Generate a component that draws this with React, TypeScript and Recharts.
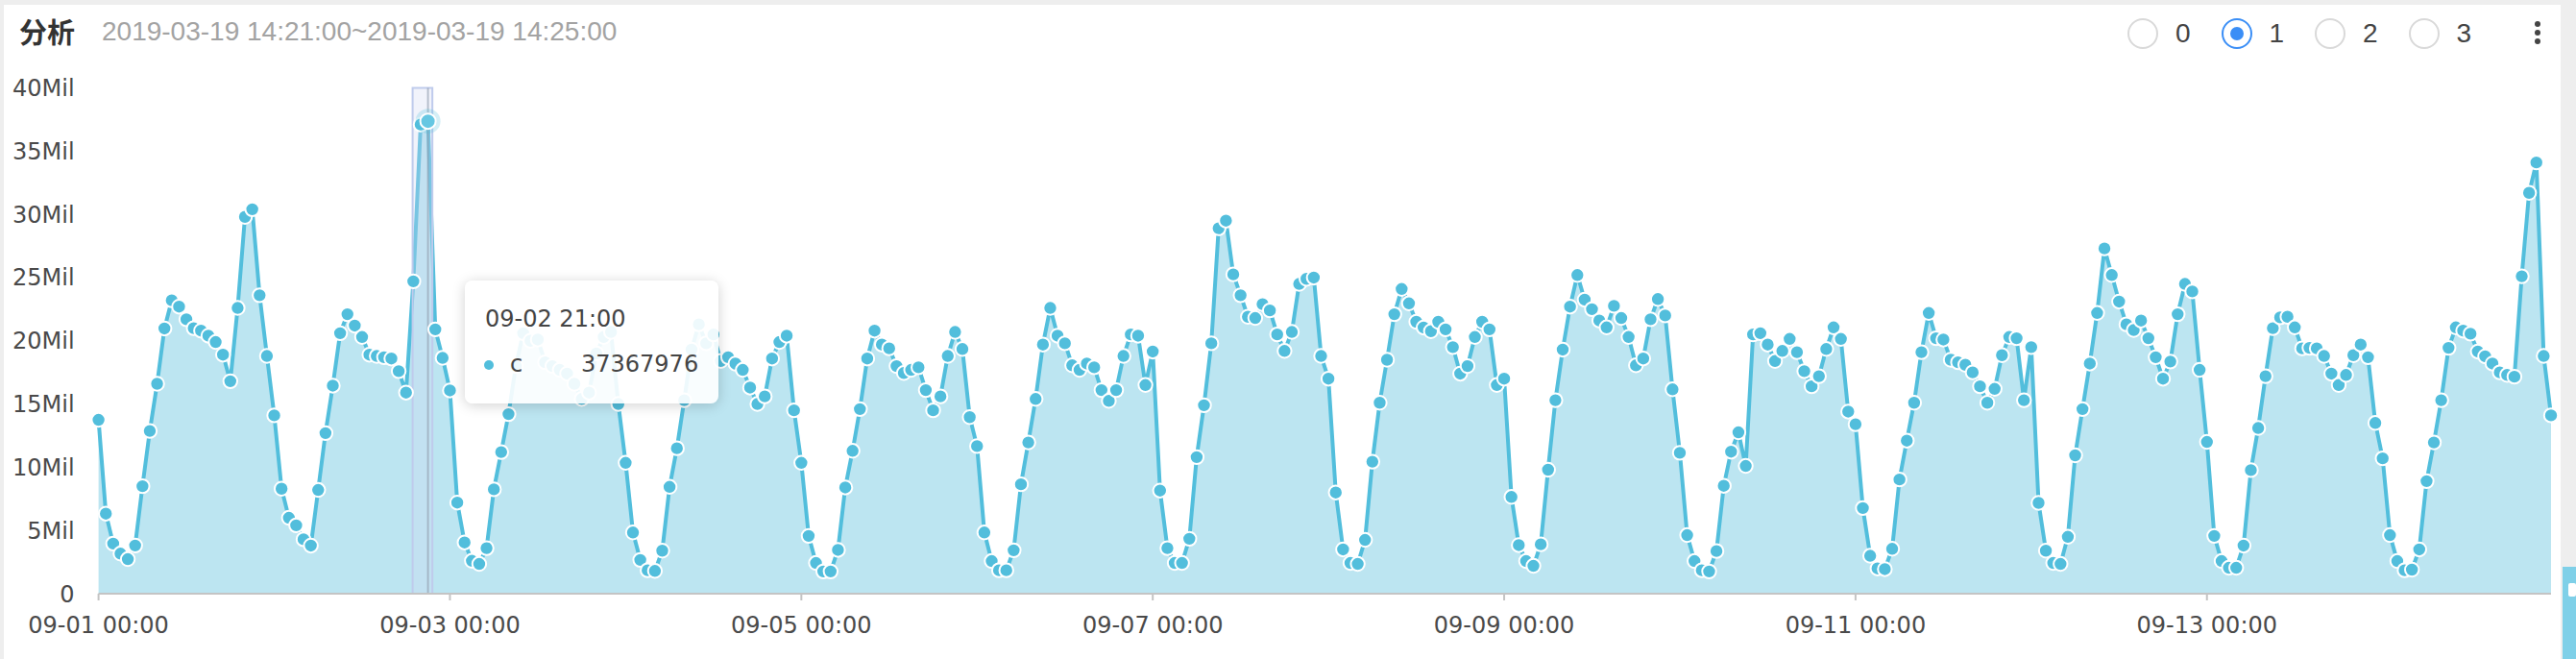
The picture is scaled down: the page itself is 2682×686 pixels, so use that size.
import {Area, AreaChart, ReferenceArea, ReferenceLine, XAxis, YAxis} from 'recharts';

// hourly values, in millions, one array per day
const sep01 = [13.75, 6.33, 3.96, 3.17, 2.73, 3.81, 8.5, 12.87, 16.6, 20.97, 23.2, 22.7, 21.7, 21.0, 20.8, 20.4, 19.9, 18.9, 16.8, 22.6, 29.8, 30.4, 23.6, 18.8];
const sep02 = [14.1, 8.3, 6.0, 5.4, 4.3, 3.8, 8.2, 12.7, 16.45, 20.6, 22.1, 21.2, 20.3, 18.9, 18.8, 18.7, 18.6, 17.6, 15.9, 24.7, 37.1, 37.367976, 20.9, 18.65];
const sep03 = [16.07, 7.2, 4.05, 2.6, 2.35, 3.6, 8.25, 11.2, 14.2, 18.0, 20.6, 20.0, 20.1, 18.3, 18.0, 17.7, 17.4, 16.6, 15.4, 15.9, 19.0, 20.3, 20.7, 15.0];
const sep04 = [10.35, 4.84, 2.67, 1.85, 1.8, 3.4, 8.45, 11.5, 15.3, 19.3, 21.3, 19.8, 20.5, 18.4, 18.7, 18.2, 17.7, 16.3, 15.0, 15.6, 18.6, 19.9, 20.4, 14.5];
const sep05 = [10.35, 4.57, 2.43, 1.76, 1.76, 3.46, 8.4, 11.3, 14.6, 18.6, 20.8, 19.7, 19.4, 18.0, 17.45, 17.7, 17.9, 16.1, 14.5, 15.6, 18.8, 20.7, 19.35, 13.96];
const sep06 = [11.67, 4.84, 2.58, 1.85, 1.85, 3.43, 8.65, 11.96, 15.4, 19.7, 22.6, 20.4, 19.8, 18.06, 17.7, 18.2, 17.9, 16.1, 15.25, 16.1, 18.8, 20.5, 20.4, 16.5];
const sep07 = [19.15, 8.15, 3.6, 2.43, 2.43, 4.34, 10.8, 14.9, 19.8, 28.9, 29.5, 25.25, 23.6, 21.9, 21.8, 22.9, 22.4, 20.5, 19.2, 20.7, 24.5, 24.9, 25.0, 18.8];
const sep08 = [17.0, 8.0, 3.5, 2.43, 2.35, 4.25, 10.44, 15.1, 18.5, 22.1, 24.1, 22.96, 21.5, 21.05, 20.76, 21.5, 20.9, 19.5, 17.4, 18.0, 20.3, 21.5, 20.9, 16.5];
const sep09 = [17.0, 7.65, 3.84, 2.58, 2.2, 3.9, 9.8, 15.3, 19.3, 22.7, 25.2, 23.25, 22.5, 21.6, 21.06, 22.76, 21.8, 20.3, 18.06, 18.6, 21.7, 23.3, 22.0, 16.16];
const sep10 = [11.14, 4.63, 2.58, 1.85, 1.76, 3.37, 8.53, 11.23, 12.76, 10.1, 20.5, 20.6, 19.7, 18.4, 19.2, 20.15, 19.1, 17.6, 16.4, 17.2, 19.35, 21.06, 20.15, 14.4];
const sep11 = [13.4, 6.77, 3.0, 2.0, 1.94, 3.55, 9.03, 12.1, 15.1, 19.1, 22.2, 20.2, 20.1, 18.5, 18.3, 18.1, 17.5, 16.4, 15.1, 16.2, 18.86, 20.3, 20.2, 15.3];
const sep12 = [19.5, 7.18, 3.4, 2.43, 2.35, 4.5, 10.94, 14.6, 18.2, 22.2, 27.3, 25.2, 23.1, 21.3, 20.85, 21.6, 20.2, 18.7, 17.0, 18.36, 22.1, 24.5, 23.9, 17.7];
const sep13 = [12.0, 4.57, 2.58, 2.05, 2.05, 3.8, 9.77, 13.1, 17.2, 21.0, 21.85, 21.9, 21.06, 19.4, 19.44, 19.4, 18.8, 17.4, 16.5, 17.3, 18.86, 19.7, 18.7, 13.5];
const sep14 = [10.7, 4.63, 2.58, 1.85, 1.9, 3.5, 8.9, 11.96, 15.3, 19.44, 21.06, 20.8, 20.56, 19.15, 18.77, 18.2, 17.5, 17.3, 17.16, 25.1, 31.7, 34.1, 18.8, 14.1];

const days = ['09-01', '09-02', '09-03', '09-04', '09-05', '09-06', '09-07', '09-08', '09-09', '09-10', '09-11', '09-12', '09-13', '09-14'];
const hours = Array.from({length: 24}, (_, h) => `${String(h).padStart(2, '0')}:00`);
const tickLabels = ['09-01 00:00', '09-03 00:00', '09-05 00:00', '09-07 00:00', '09-09 00:00', '09-11 00:00', '09-13 00:00'];
const yTicks = [0, 5000000, 10000000, 15000000, 20000000, 25000000, 30000000, 35000000, 40000000];
const radioOptions = ['0', '1', '2', '3'];

const seriesName = 'c';
const activeTime = '09-02 21:00';

const times = days.flatMap((d) => hours.map((h) => `${d} ${h}`));
const values = [sep01, sep02, sep03, sep04, sep05, sep06, sep07, sep08, sep09, sep10, sep11, sep12, sep13, sep14].flat();
const data = times.map((t, i) => ({idx: i, time: t, value: Math.round(values[i] * 1000000)}));
const tickIdx = tickLabels.map((l) => times.indexOf(l));
const activeIndex = times.indexOf(activeTime);

const LINE = '#52bedc';
const AXIS_FONT = '"DejaVu Sans", sans-serif';

const renderDot = (props: any) => {
  const {cx, cy, index} = props;
  if (index === activeIndex) {
    return (
      <g key={`dot-${index}`}>
        <circle cx={cx} cy={cy} r={13} fill={LINE} fillOpacity={0.25} />
        <circle cx={cx} cy={cy} r={8} fill="#66c7e2" stroke="#fff" strokeWidth={2} />
      </g>
    );
  }
  return <circle key={`dot-${index}`} cx={cx} cy={cy} r={7.2} fill={LINE} stroke="#fff" strokeWidth={2} />;
};

const yFormat = (v: number) => (v === 0 ? '0' : `${v / 1000000}Mil`);

function Radio({label, checked, x}: {label: string; checked: boolean; x: number}) {
  return (
    <div style={{position: 'absolute', left: x - 16, top: 19, display: 'flex', alignItems: 'center'}}>
      <div
        style={{
          width: 28,
          height: 28,
          borderRadius: '50%',
          border: `2px solid ${checked ? '#3a8ef6' : '#d9d9d9'}`,
          display: 'flex',
          alignItems: 'center',
          justifyContent: 'center',
        }}
      >
        {checked && <div style={{width: 14, height: 14, borderRadius: '50%', background: '#3a8ef6'}} />}
      </div>
      <span style={{marginLeft: 18, fontSize: 28, color: '#444', fontFamily: '"Liberation Sans", Arial, sans-serif'}}>{label}</span>
    </div>
  );
}

export default function App() {
  return (
    <div style={{position: 'absolute', left: 0, top: 0, width: 2682, height: 686, background: '#eeeeee', overflow: 'hidden'}}>
      <div style={{position: 'absolute', left: 4, top: 5, width: 2662, height: 681, background: '#fff'}} />
      <div
        style={{
          position: 'absolute',
          left: 20,
          top: 13,
          fontSize: 29,
          fontWeight: 700,
          color: '#333',
          fontFamily: '"Noto Sans CJK SC", sans-serif',
          lineHeight: '38px',
        }}
      >
        分析
      </div>
      <div
        style={{
          position: 'absolute',
          left: 106,
          top: 14,
          fontSize: 28,
          color: '#a3a3a3',
          fontFamily: '"Liberation Sans", Arial, sans-serif',
          lineHeight: '38px',
        }}
      >
        2019-03-19 14:21:00~2019-03-19 14:25:00
      </div>
      {radioOptions.map((o, i) => (
        <Radio key={o} label={o} checked={o === '1'} x={2231 + i * 97.5} />
      ))}
      {[25, 34, 43].map((y) => (
        <div key={y} style={{position: 'absolute', left: 2639, top: y - 3, width: 6, height: 6, borderRadius: '50%', background: '#444'}} />
      ))}

      <div style={{position: 'absolute', left: 0, top: 0}}>
        <AreaChart width={2682} height={686} data={data} margin={{top: 91.5, right: 26, bottom: 18, left: 0}}>
          <XAxis
            dataKey="idx"
            type="number"
            domain={[0, times.length - 1]}
            ticks={tickIdx}
            tickFormatter={(i: number) => times[i]}
            stroke="#c4c4c4"
            strokeWidth={2}
            tickSize={7}
            tickMargin={17}
            height={50}
            tick={{fill: '#4a4a4a', fontSize: 24, fontFamily: AXIS_FONT}}
          />
          <YAxis
            width={102.6}
            domain={[0, 40000000]}
            ticks={yTicks}
            tickFormatter={yFormat}
            axisLine={false}
            tickLine={false}
            tickSize={0}
            tickMargin={25}
            tick={{fill: '#4a4a4a', fontSize: 24, fontFamily: AXIS_FONT}}
          />
          <Area
            type="linear"
            dataKey="value"
            stroke={LINE}
            strokeWidth={4}
            fill="#bce5f1"
            fillOpacity={1}
            dot={renderDot}
            activeDot={false}
            isAnimationActive={false}
          />
          <ReferenceArea x1={42.9} x2={45.6} y1={0} y2={40000000} fill="#cfd8f2" fillOpacity={0.3} stroke="#bfcbec" strokeWidth={2} />
          <ReferenceLine x={activeIndex} stroke="#8f9bab" strokeOpacity={0.6} strokeWidth={2} />
        </AreaChart>
      </div>

      <div
        style={{
          position: 'absolute',
          left: 484,
          top: 292,
          width: 264,
          height: 128,
          background: 'rgba(255,255,255,0.9)',
          borderRadius: 8,
          boxShadow: '0 2px 14px rgba(0,0,0,0.18)',
          fontFamily: AXIS_FONT,
          fontSize: 24,
          color: '#444',
        }}
      >
        <div style={{position: 'absolute', left: 21, top: 25, lineHeight: '30px'}}>{times[activeIndex]}</div>
        <div style={{position: 'absolute', left: 20, top: 83, width: 10, height: 10, borderRadius: '50%', background: LINE}} />
        <div style={{position: 'absolute', left: 47, top: 72, lineHeight: '30px'}}>{seriesName}</div>
        <div style={{position: 'absolute', left: 121, top: 72, lineHeight: '30px'}}>{data[activeIndex].value}</div>
      </div>

      <div style={{position: 'absolute', left: 2668, top: 590, width: 14, height: 96, background: '#7fd0e8'}}>
        <div style={{position: 'absolute', left: 6, top: 17, width: 8, height: 14, background: '#fff', borderRadius: 2}} />
      </div>
    </div>
  );
}
